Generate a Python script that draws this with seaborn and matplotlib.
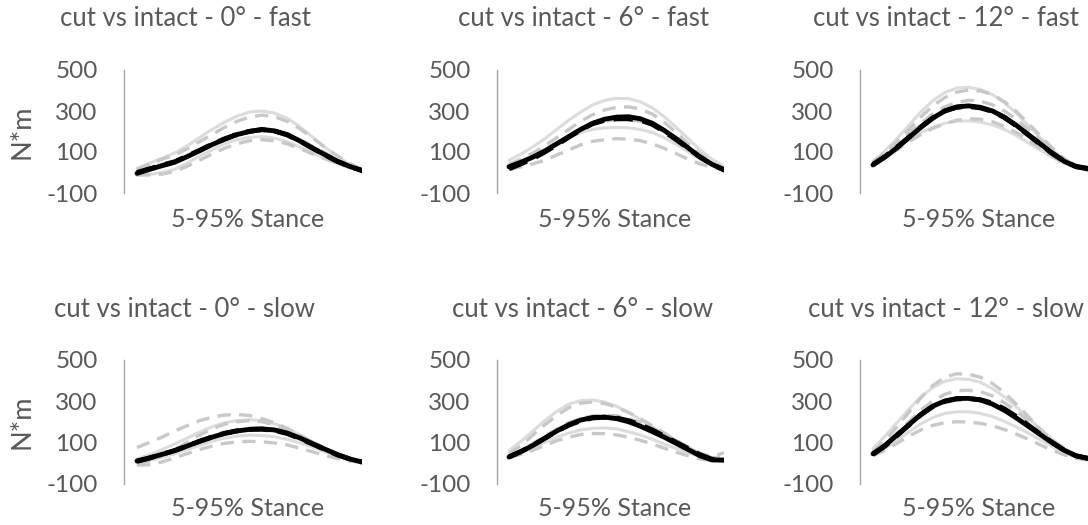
import matplotlib
matplotlib.use("Agg")
import matplotlib.pyplot as plt
import seaborn as sns

# Percent of stance (5-95 %, 5 % steps)
pct = list(range(5, 100, 5))

# ---- 0 deg, fast ----
f0_intact_mean = [-4, 15, 33, 50, 77, 106, 136, 162, 185, 200, 210, 203, 185, 155, 120, 88, 55, 30, 9]
f0_cut_mean = [0, 18, 36, 52, 80, 108, 138, 164, 186, 201, 209, 202, 184, 154, 120, 87, 55, 30, 10]
f0_intact = [
    [20, 45, 70, 95, 130, 170, 210, 245, 275, 295, 300, 290, 265, 225, 175, 125, 80, 40, 12],
    [-15, -10, 0, 15, 45, 80, 110, 140, 160, 172, 175, 168, 150, 125, 98, 70, 45, 25, 8],
]
f0_cut = [
    [15, 40, 65, 85, 115, 150, 185, 220, 250, 270, 280, 272, 250, 215, 170, 125, 82, 45, 15],
    [5, 25, 40, 55, 80, 110, 140, 165, 185, 198, 205, 200, 185, 160, 130, 98, 65, 38, 12],
    [-10, -12, -8, 5, 30, 60, 90, 118, 140, 155, 160, 155, 140, 118, 92, 68, 45, 25, 8],
]

# ---- 6 deg, fast ----
f6_intact_mean = [28, 50, 75, 105, 140, 175, 210, 240, 260, 270, 272, 262, 240, 205, 165, 120, 75, 40, 12]
f6_cut_mean = [18, 42, 68, 100, 135, 172, 208, 238, 255, 262, 262, 255, 235, 200, 160, 118, 75, 40, 14]
f6_intact = [
    [60, 90, 125, 165, 210, 255, 295, 330, 352, 362, 360, 345, 315, 272, 220, 165, 110, 65, 30],
    [35, 55, 80, 110, 140, 170, 195, 210, 218, 220, 218, 210, 195, 170, 138, 100, 65, 35, 15],
]
f6_cut = [
    [40, 65, 95, 130, 170, 210, 250, 282, 305, 318, 320, 310, 285, 245, 195, 140, 90, 50, 20],
    [30, 52, 78, 110, 145, 180, 210, 235, 250, 258, 258, 250, 230, 198, 160, 118, 78, 42, 18],
    [15, 28, 42, 60, 85, 110, 135, 152, 160, 165, 163, 155, 140, 118, 92, 65, 42, 25, 12],
]

# ---- 12 deg, fast ----
f12_intact_mean = [37, 75, 120, 170, 220, 265, 300, 320, 325, 318, 300, 270, 230, 185, 140, 95, 55, 28, 18]
f12_cut_mean = [40, 78, 123, 172, 222, 266, 300, 318, 322, 315, 298, 268, 228, 183, 138, 93, 55, 30, 20]
f12_intact = [
    [55, 105, 165, 230, 295, 350, 390, 412, 415, 405, 380, 340, 290, 230, 170, 110, 60, 25, 10],
    [45, 80, 120, 160, 195, 220, 240, 250, 252, 246, 232, 210, 180, 145, 110, 75, 45, 25, 15],
]
f12_cut = [
    [50, 95, 150, 210, 270, 325, 365, 392, 402, 398, 380, 345, 298, 240, 180, 120, 68, 30, 12],
    [45, 88, 135, 190, 240, 285, 320, 342, 352, 348, 330, 300, 260, 210, 160, 108, 62, 30, 15],
    [42, 72, 110, 150, 185, 215, 238, 255, 262, 260, 248, 225, 195, 158, 118, 80, 48, 25, 12],
]

# ---- 0 deg, slow ----
s0_intact_mean = [10, 25, 42, 60, 82, 105, 125, 143, 155, 163, 165, 160, 145, 122, 95, 68, 42, 20, 5]
s0_cut_mean = [8, 24, 42, 60, 82, 105, 126, 144, 156, 163, 164, 158, 143, 120, 93, 66, 40, 20, 5]
s0_intact = [
    [20, 40, 65, 92, 120, 150, 175, 195, 205, 210, 205, 190, 168, 138, 105, 72, 45, 20, 5],
    [0, 12, 28, 45, 65, 85, 105, 120, 130, 135, 133, 127, 115, 98, 78, 55, 33, 15, 3],
]
s0_cut = [
    [75, 100, 125, 155, 180, 205, 222, 232, 235, 230, 215, 195, 168, 135, 102, 70, 42, 20, 5],
    [-5, 10, 35, 65, 100, 135, 165, 188, 200, 205, 200, 185, 160, 130, 98, 66, 40, 18, 5],
    [-10, -8, 5, 25, 45, 65, 82, 95, 102, 105, 103, 97, 88, 72, 55, 38, 22, 10, 3],
]

# ---- 6 deg, slow ----
s6_intact_mean = [29, 55, 85, 120, 155, 185, 208, 220, 222, 215, 200, 178, 152, 125, 95, 65, 35, 15, 14]
s6_cut_mean = [30, 56, 86, 120, 154, 183, 205, 218, 222, 218, 205, 185, 160, 130, 100, 70, 40, 18, 15]
s6_intact = [
    [60, 105, 155, 205, 250, 285, 302, 305, 295, 275, 245, 210, 172, 135, 100, 68, 40, 25, 20],
    [30, 50, 75, 100, 125, 145, 160, 168, 170, 165, 152, 135, 115, 92, 70, 50, 32, 20, 15],
]
s6_cut = [
    [45, 85, 135, 185, 230, 268, 290, 295, 288, 270, 245, 215, 180, 145, 110, 78, 48, 30, 50],
    [35, 62, 95, 130, 165, 195, 215, 228, 232, 228, 215, 195, 170, 140, 108, 75, 45, 25, 30],
    [25, 42, 62, 85, 108, 125, 138, 143, 142, 136, 125, 110, 92, 72, 52, 35, 20, 12, 10],
]

# ---- 12 deg, slow ----
s12_intact_mean = [45, 85, 135, 185, 235, 275, 300, 312, 313, 305, 285, 255, 218, 178, 138, 98, 62, 35, 23]
s12_cut_mean = [42, 82, 132, 183, 233, 273, 298, 310, 312, 306, 290, 262, 225, 183, 140, 100, 62, 35, 22]
s12_intact = [
    [70, 130, 195, 260, 320, 365, 395, 408, 405, 390, 360, 320, 272, 218, 165, 115, 70, 38, 22],
    [40, 72, 110, 150, 190, 220, 240, 248, 248, 240, 225, 202, 175, 145, 112, 80, 50, 28, 18],
]
s12_cut = [
    [55, 110, 175, 245, 315, 375, 415, 432, 430, 415, 385, 340, 285, 225, 165, 110, 65, 32, 18],
    [48, 92, 145, 200, 255, 300, 332, 350, 352, 345, 325, 292, 250, 205, 158, 112, 70, 38, 20],
    [35, 62, 95, 130, 160, 182, 195, 200, 198, 192, 180, 162, 140, 115, 88, 62, 40, 22, 15],
]

titles = [
    "cut vs intact - 0° - fast", "cut vs intact - 6° - fast", "cut vs intact - 12° - fast",
    "cut vs intact - 0° - slow", "cut vs intact - 6° - slow", "cut vs intact - 12° - slow",
]
y_ticks = [-100, 100, 300, 500]
x_label = "5-95% Stance"
y_label = "N*m"

panels = [
    (f0_intact, f0_cut, f0_intact_mean, f0_cut_mean),
    (f6_intact, f6_cut, f6_intact_mean, f6_cut_mean),
    (f12_intact, f12_cut, f12_intact_mean, f12_cut_mean),
    (s0_intact, s0_cut, s0_intact_mean, s0_cut_mean),
    (s6_intact, s6_cut, s6_intact_mean, s6_cut_mean),
    (s12_intact, s12_cut, s12_intact_mean, s12_cut_mean),
]

sns.set_theme(style="white")
plt.rcParams["font.family"] = ["Lato", "DejaVu Sans"]
plt.rcParams["axes.unicode_minus"] = False

TEXT = "#595959"
W, H = 1088, 525
fig = plt.figure(figsize=(W / 100, H / 100), dpi=100)

# plot-area geometry in pixels: (left, right, first-point x) per column, (top, bottom) per row
cols = [(124, 362, 137), (497, 724, 509), (860, 1088, 873)]
rows = [(70, 193), (359.7, 483.7)]
title_x = [185, 583, 946]
title_base = [26.5, 317]
xlabel_x = [247.5, 615, 979]
xlabel_base = [226.5, 516]
FS_TICK = 17.5
FS_TITLE = 18.5
FS_XLAB = 18
FS_YLAB = 19.5

for i, (intact, cut, intact_mean, cut_mean) in enumerate(panels):
    r, c = divmod(i, 3)
    left, right, first = cols[c]
    top, bottom = rows[r]
    ax = fig.add_axes([left / W, 1 - bottom / H, (right - left) / W, (bottom - top) / H])

    for tr in intact:
        sns.lineplot(x=pct, y=tr, ax=ax, color="#DCDCDC", linewidth=2.2,
                     solid_capstyle="round")
    for tr in cut:
        sns.lineplot(x=pct, y=tr, ax=ax, color="#C8C8C8", linewidth=2.4,
                     linestyle=(0, (4, 2.5)))
    sns.lineplot(x=pct, y=cut_mean, ax=ax, color="black", linewidth=3.5,
                 linestyle=(0, (4, 2)))
    sns.lineplot(x=pct, y=intact_mean, ax=ax, color="black", linewidth=3.5,
                 solid_capstyle="round")

    px_per_unit = (right - first) / (pct[-1] - pct[0])
    ax.set_xlim(pct[0] - (first - left) / px_per_unit, pct[-1])
    ax.set_ylim(y_ticks[0], y_ticks[-1])
    ax.set_yticks(y_ticks)
    ax.set_xticks([])
    ax.set_xlabel("")
    ax.set_ylabel("")
    ax.tick_params(axis="y", length=0, pad=19, labelsize=FS_TICK, labelcolor=TEXT)
    for s in ["top", "right", "bottom"]:
        ax.spines[s].set_visible(False)
    ax.spines["left"].set_color("#A6A6A6")
    ax.spines["left"].set_linewidth(1.0)
    ax.patch.set_alpha(0)

    fig.text(title_x[c] / W, 1 - title_base[r] / H, titles[i], ha="center",
             va="baseline", fontsize=FS_TITLE, color=TEXT)
    fig.text(xlabel_x[c] / W, 1 - xlabel_base[r] / H, x_label, ha="center",
             va="baseline", fontsize=FS_XLAB, color=TEXT)
    if c == 0:
        fig.text(22 / W, 1 - ((top + bottom) / 2) / H, y_label, ha="center",
                 va="center", rotation=90, fontsize=FS_YLAB, color=TEXT)

fig.savefig("out.png", dpi=100)
